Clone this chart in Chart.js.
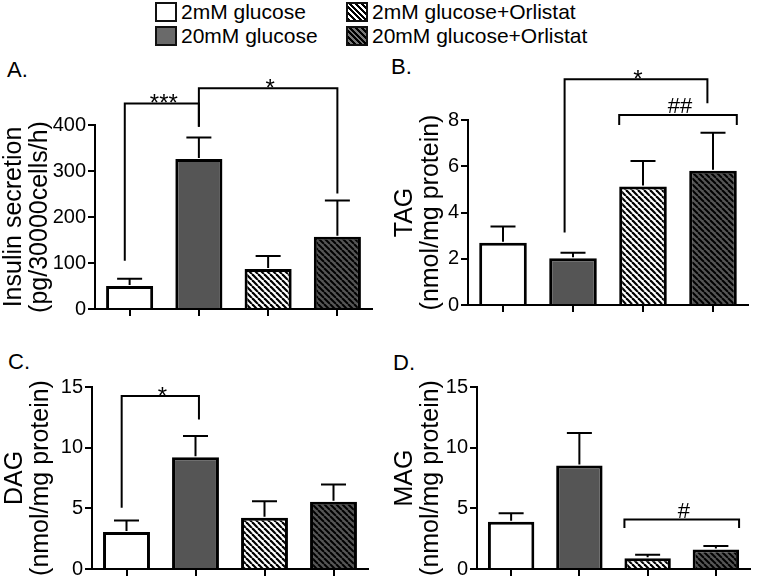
<!DOCTYPE html>
<html>
<head>
<meta charset="utf-8">
<script src="https://cdn.jsdelivr.net/npm/chart.js@4/dist/chart.umd.min.js"></script>
<style>
  body { margin: 0; background: #fff; width: 757px; height: 583px; position: relative; overflow: hidden;
         font-family: "Liberation Sans", Arial, sans-serif; color: #000; }
  canvas { position: absolute; }
  .panel { position: absolute; font-size: 22px; line-height: 22px; }
  .key { position: absolute; display: flex; align-items: center; height: 24px; font-size: 21px; white-space: nowrap; }
  .sw { width: 18px; height: 16px; border: 2px solid #111; margin-right: 4px; }
</style>
</head>
<body>
<div id="legend"></div>
<div class="panel" style="left:7px;top:59px">A.</div>
<div class="panel" style="left:391px;top:56px">B.</div>
<div class="panel" style="left:8px;top:351px">C.</div>
<div class="panel" style="left:393px;top:352px">D.</div>
<canvas id="cA" width="378" height="285" style="left:0;top:40px"></canvas>
<canvas id="cB" width="377" height="285" style="left:380px;top:40px"></canvas>
<canvas id="cC" width="378" height="253" style="left:0;top:330px"></canvas>
<canvas id="cD" width="377" height="253" style="left:380px;top:330px"></canvas>
<script>
const groups = ['2mM glucose', '20mM glucose', '2mM glucose+Orlistat', '20mM glucose+Orlistat'];

// mean and SEM
const insulinMean = [50, 326, 87, 157];
const insulinSem = [16, 47, 28, 79];
const tagMean = [2.69, 2.02, 5.12, 5.81];
const tagSem = [0.70, 0.24, 1.11, 1.64];
const dagMean = [3.05, 9.22, 4.23, 5.54];
const dagSem = [0.95, 1.74, 1.36, 1.42];
const magMean = [3.9, 8.53, 0.88, 1.6];
const magSem = [0.7, 2.67, 0.3, 0.3];

// significance brackets: category positions (from/to) and heights in data units
const insulinMarks = [
    {from: -0.07, to: 1, top: 447, left: 105, right: 396, text: '***'},
    {from: 1, to: 3, top: 480, left: 396, right: 251, text: '*'}
];
const tagMarks = [
    {from: 0.88, to: 2.92, top: 9.76, left: 3.13, right: 8.72, text: '*'},
    {from: 1.66, to: 3.34, top: 8.22, left: 7.78, right: 7.78, text: '##'}
];
const dagMarks = [
    {from: -0.07, to: 1.05, top: 14.26, left: 5.05, right: 12.33, text: '*'}
];
const magMarks = [
    {from: 1.66, to: 3.34, top: 4.07, left: 3.37, right: 3.37, text: '#'}
];

const FONT = '"Liberation Sans", Arial, sans-serif';

function hatch(bg, line, w) {
    const c = document.createElement('canvas');
    c.width = c.height = 6;
    const g = c.getContext('2d');
    g.fillStyle = bg;
    g.fillRect(0, 0, 6, 6);
    g.strokeStyle = line;
    g.lineWidth = w;
    for (const k of [-6, 0, 6]) {
        g.beginPath(); g.moveTo(k, 0); g.lineTo(k + 6, 6); g.stroke();
    }
    return g.createPattern(c, 'repeat');
}

const fills = ['#ffffff', '#555555', hatch('#ffffff', '#000000', 2.2), hatch('#555555', '#000000', 2)];

// legend (html)
const swatches = [
    'background:#fff',
    'background:#6a6a6a',
    'background:repeating-linear-gradient(45deg,#000 0 2px,#fff 2px 4px)',
    'background:repeating-linear-gradient(45deg,#000 0 2px,#777 2px 4px)'
];
const keyPos = [[155, 0], [155, 24], [346, 0], [346, 24]];
groups.forEach((g, i) => {
    const d = document.createElement('div');
    d.className = 'key';
    d.style.left = keyPos[i][0] + 'px';
    d.style.top = keyPos[i][1] + 'px';
    d.innerHTML = '<span class="sw" style="' + swatches[i] + '"></span><span></span>';
    d.lastChild.textContent = g;
    document.getElementById('legend').appendChild(d);
});

const errorBars = {
    id: 'errorBars',
    afterDatasetsDraw(chart, args, opts) {
        const ctx = chart.ctx;
        const y = chart.scales.y;
        const meta = chart.getDatasetMeta(0);
        ctx.save();
        ctx.strokeStyle = '#000';
        ctx.lineWidth = 2;
        meta.data.forEach((bar, i) => {
            const m = chart.data.datasets[0].data[i];
            const top = y.getPixelForValue(m + opts.sem[i]);
            const base = y.getPixelForValue(m) - 1;
            ctx.beginPath();
            ctx.moveTo(bar.x, base); ctx.lineTo(bar.x, top);
            ctx.moveTo(bar.x - 12.5, top); ctx.lineTo(bar.x + 12.5, top);
            ctx.stroke();
        });
        ctx.restore();
    }
};

const brackets = {
    id: 'brackets',
    afterDraw(chart, args, opts) {
        const ctx = chart.ctx;
        const xs = chart.scales.x, ys = chart.scales.y;
        ctx.save();
        ctx.strokeStyle = '#000';
        ctx.fillStyle = '#000';
        ctx.lineWidth = 2;
        ctx.textAlign = 'center';
        ctx.textBaseline = 'alphabetic';
        opts.marks.forEach(b => {
            const x1 = xs.getPixelForValue(b.from), x2 = xs.getPixelForValue(b.to);
            const yt = ys.getPixelForValue(b.top);
            ctx.beginPath();
            ctx.moveTo(x1, ys.getPixelForValue(b.left));
            ctx.lineTo(x1, yt);
            ctx.lineTo(x2, yt);
            ctx.lineTo(x2, ys.getPixelForValue(b.right));
            ctx.stroke();
            const star = b.text.indexOf('*') >= 0;
            ctx.font = (star ? 24 : 22) + 'px ' + FONT;
            ctx.fillText(b.text, (x1 + x2) / 2 + 2, star ? yt + 8 : yt - 2);
        });
        ctx.restore();
    }
};

function makePanel(id, mean, sem, marks, cfg) {
    const ctx = document.getElementById(id).getContext('2d');
    return new Chart(ctx, {
        type: 'bar',
        data: {
            labels: groups,
            datasets: [{
                data: mean,
                backgroundColor: fills,
                borderColor: '#000',
                borderWidth: 3,
                barPercentage: 0.68,
                categoryPercentage: 1
            }]
        },
        options: {
            responsive: false,
            animation: false,
            layout: {padding: cfg.padding},
            scales: {
                x: {
                    ticks: {display: false},
                    grid: {drawOnChartArea: false, offset: false, tickLength: 7, color: '#000', lineWidth: 2},
                    border: {color: '#000', width: 2},
                    afterFit: s => { s.height = cfg.xHeight; }
                },
                y: {
                    min: 0, max: cfg.max,
                    ticks: {stepSize: cfg.step, color: '#000', padding: 2, font: {family: FONT, size: 20}},
                    grid: {drawOnChartArea: false, tickLength: 7, color: '#000', lineWidth: 2},
                    border: {color: '#000', width: 2},
                    title: {display: true, text: cfg.title, color: '#000',
                            font: {family: FONT, size: 25, lineHeight: 1.05},
                            padding: {top: cfg.titlePad, bottom: 0}},
                    afterFit: s => { s.width = cfg.yWidth; }
                }
            },
            plugins: {
                legend: {display: false},
                tooltip: {enabled: false},
                errorBars: {sem},
                brackets: {marks}
            }
        },
        plugins: [errorBars, brackets]
    });
}

makePanel('cA', insulinMean, insulinSem, insulinMarks, {
    max: 400, step: 100, title: ['Insulin secretion', '(pg/30000cells/h)'],
    padding: {top: 85, right: 6, left: 0, bottom: 0}, xHeight: 16, yWidth: 95, titlePad: 1.2
});
makePanel('cB', tagMean, tagSem, tagMarks, {
    max: 8, step: 2, title: ['TAG', '(nmol/mg protein)'],
    padding: {top: 80, right: 9, left: 0, bottom: 0}, xHeight: 20, yWidth: 88, titlePad: 12.2
});
makePanel('cC', dagMean, dagSem, dagMarks, {
    max: 15, step: 5, title: ['DAG', '(nmol/mg protein)'],
    padding: {top: 57, right: 10, left: 0, bottom: 0}, xHeight: 13, yWidth: 92, titlePad: 1.5
});
makePanel('cD', magMean, magSem, magMarks, {
    max: 15, step: 5, title: ['MAG', '(nmol/mg protein)'],
    padding: {top: 57, right: 7, left: 0, bottom: 0}, xHeight: 13, yWidth: 97, titlePad: 11.5
});
</script>
</body>
</html>
